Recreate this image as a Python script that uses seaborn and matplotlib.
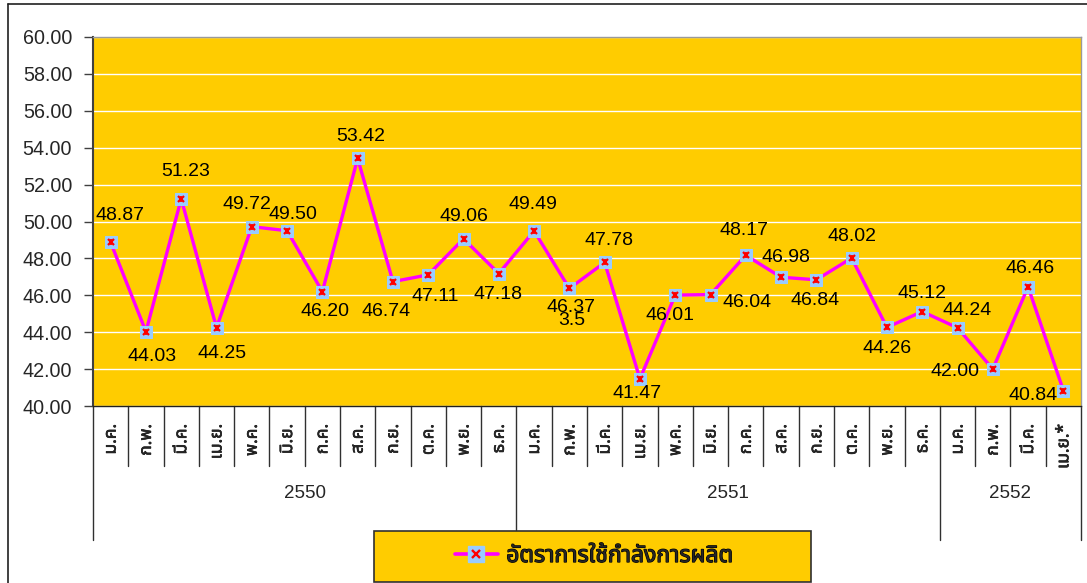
"""Capacity utilisation line chart, 2550-2552."""
import matplotlib
matplotlib.use('Agg')
import matplotlib.pyplot as plt
import matplotlib.patheffects as pe
from matplotlib import font_manager
from matplotlib.ft2font import FT2Font
from matplotlib.lines import Line2D
from matplotlib.patches import Rectangle
import pandas as pd
import seaborn as sns

# data
months = ['ม.ค.', 'ก.พ.', 'มี.ค.', 'เม.ย.', 'พ.ค.', 'มิ.ย.', 'ก.ค.', 'ส.ค.', 'ก.ย.', 'ต.ค.', 'พ.ย.', 'ธ.ค.',
          'ม.ค.', 'ก.พ.', 'มี.ค.', 'เม.ย.', 'พ.ค.', 'มิ.ย.', 'ก.ค.', 'ส.ค.', 'ก.ย.', 'ต.ค.', 'พ.ย.', 'ธ.ค.',
          'ม.ค.', 'ก.พ.', 'มี.ค.', 'เม.ย.*']
years = ['2550', '2551', '2552']
year_lengths = [12, 12, 4]
values = [48.87, 44.03, 51.23, 44.25, 49.72, 49.50, 46.20, 53.42, 46.74, 47.11, 49.06, 47.18,
          49.49, 46.37, 47.78, 41.47, 46.01, 46.04, 48.17, 46.98, 46.84, 48.02, 44.26, 45.12,
          44.24, 42.00, 46.46, 40.84]
series_name = 'อัตราการใช้กำลังการผลิต'
y_ticks = [40, 42, 44, 46, 48, 50, 52, 54, 56, 58, 60]

# label offsets from the marker, in pixels (dx, dy up)
label_offsets = [(9, 27), (6, -25), (4, 27), (6, -26), (-5, 22), (6, 16), (3, -20), (3, 22),
                 (-7, -30), (7, -22), (0, 22), (-1, -21),
                 (-1, 26), (2, -19), (4, 22), (-3, -15), (-5, -20), (37, -8), (-2, 25), (5, 20),
                 (-1, -21), (0, 22), (0, -21), (0, 18),
                 (10, 17), (-38, -2), (2, 18), (-30, -5)]


def find_thai_font():
    preferred = ['Tahoma', 'Noto Sans Thai', 'Loma', 'Garuda', 'Waree', 'Sarabun', 'Norasi',
                 'DejaVu Sans', 'Noto Sans', 'Liberation Sans']
    found = {}
    for f in font_manager.fontManager.ttflist:
        if f.name in found:
            continue
        try:
            cmap = FT2Font(f.fname).get_charmap()
        except Exception:
            continue
        if 0x0E01 in cmap and 0x0E34 in cmap:
            found[f.name] = f.fname
    for name in preferred:
        if name in found:
            return name
    return next(iter(found), 'DejaVu Sans')


sns.set_style('white')
thai_font = find_thai_font()
plt.rcParams['font.family'] = ['Liberation Sans', thai_font, 'DejaVu Sans']

df = pd.DataFrame({'pos': range(len(values)), 'value': values})

W, H = 1087, 583
fig = plt.figure(figsize=(W / 100, H / 100), dpi=100)
ax = fig.add_axes([93 / W, 1 - 406 / H, (1081 - 93) / W, (406 - 37) / H])
ax.set_facecolor('#FFCC00')

sns.lineplot(data=df, x='pos', y='value', ax=ax, color='#FF00FF', linewidth=2.4, sort=False,
             marker='s', markersize=8.5, markerfacecolor='#99CCFF', markeredgecolor='#99CCFF', zorder=3)
ax.plot(df['pos'], df['value'], linestyle='none', marker='x', markersize=5, markeredgewidth=1.6,
        color='#FF0000', zorder=4)
ax.plot(df['pos'], df['value'], linestyle='none', marker='|', markersize=5, markeredgewidth=1.3,
        color='#FF0000', zorder=4)

ax.set_xlim(-0.5, len(values) - 0.5)
ax.set_ylim(40, 60)
ax.set_yticks(y_ticks)
ax.set_yticklabels([f'{t:.2f}' for t in y_ticks])
ax.set_xticks([])
ax.set_xlabel('')
ax.set_ylabel('')
ax.yaxis.grid(True, color='white', linewidth=1)
ax.set_axisbelow(True)
ax.tick_params(axis='y', direction='out', length=6.5, width=1, color='#404040', pad=8.5,
               labelsize=14.2, left=True)
for side in ['top', 'right']:
    ax.spines[side].set_color('#9a9a9a')
    ax.spines[side].set_linewidth(1)
ax.spines['left'].set_color('#404040')
ax.spines['left'].set_linewidth(1.5)
ax.spines['bottom'].set_color('#202020')
ax.spines['bottom'].set_linewidth(1)

for i, (v, (dx, dy)) in enumerate(zip(values, label_offsets)):
    ax.annotate(f'{v:.2f}', (i, v), xytext=(dx, dy), textcoords='offset pixels',
                ha='center', va='center', fontsize=14, color='black', zorder=5)
# stray label fragment under 46.37
ax.annotate('3.5', (13, values[13]), xytext=(2, -32.5), textcoords='offset pixels',
            ha='center', va='center', fontsize=14, color='black', zorder=5)

# category axis: month labels, separators, year groups
tr = ax.get_xaxis_transform()
short_bottom = -(466 - 406) / 369
long_bottom = -(540 - 406) / 369
bounds = [-0.5]
for n in year_lengths:
    bounds.append(bounds[-1] + n)
for i in range(1, len(values)):
    x = i - 0.5
    if x in bounds:
        continue
    ax.add_line(Line2D([x, x], [0, short_bottom], transform=tr, color='#303030', linewidth=1,
                       clip_on=False))
for x in bounds:
    ax.add_line(Line2D([x, x], [0, long_bottom], transform=tr, color='#303030', linewidth=1,
                       clip_on=False))
for i, m in enumerate(months):
    ax.text(i, -(424 - 406) / 369, m, transform=tr, rotation=90, ha='center', va='top',
            fontsize=12.5, family=[thai_font, 'DejaVu Sans'],
            path_effects=[pe.withStroke(linewidth=0.4, foreground='black')])
for k, yr in enumerate(years):
    ax.text((bounds[k] + bounds[k + 1]) / 2, -(493 - 406) / 369, yr, transform=tr,
            ha='center', va='center', fontsize=13.5)

# outer chart border
fig.add_artist(Line2D([8 / W, 1], [1 - 4 / H, 1 - 4 / H], color='#202020', linewidth=1.2))
fig.add_artist(Line2D([8 / W, 8 / W], [0, 1 - 4 / H], color='#202020', linewidth=1.2))

# legend box
fig.add_artist(Rectangle((374 / W, 1 - 582 / H), (811 - 374) / W, (582 - 531) / H,
                         transform=fig.transFigure, facecolor='#FFCC00', edgecolor='#303030',
                         linewidth=1.2, zorder=4))
h_line = Line2D([], [], color='#FF00FF', linewidth=2.6, marker='s', markersize=11,
                markerfacecolor='#99CCFF', markeredgecolor='#99CCFF')
h_x = Line2D([], [], linestyle='none', marker='x', markersize=5.5, markeredgewidth=1.7, color='#FF0000')
leg = fig.legend([(h_line, h_x)], [series_name], loc='center',
                 bbox_to_anchor=(594 / W, 1 - 556 / H), frameon=False, handlelength=1.9,
                 handletextpad=0.35, prop={'family': [thai_font, 'DejaVu Sans'], 'weight': 'bold',
                                           'size': 16.5})
leg.set_zorder(6)
for t in leg.get_texts():
    # the Thai face has no bold cut, so thicken the strokes
    t.set_path_effects([pe.withStroke(linewidth=0.9, foreground='black')])

fig.savefig('out.png', dpi=100)
